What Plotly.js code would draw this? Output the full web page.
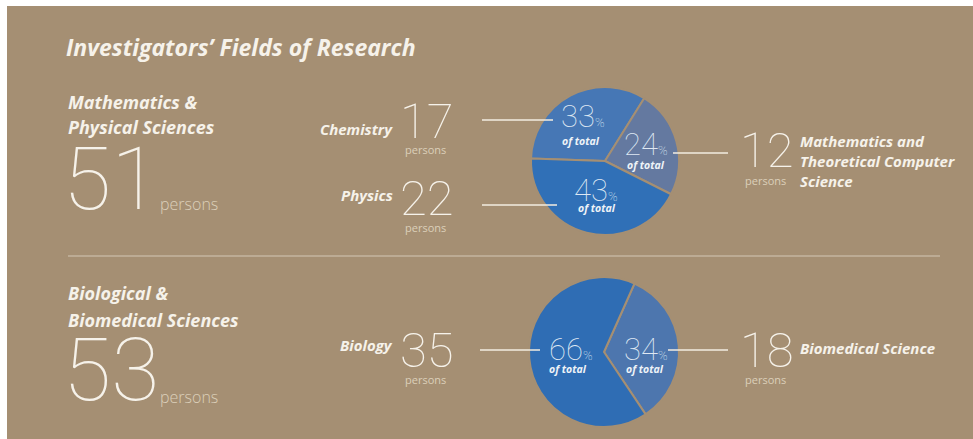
<!DOCTYPE html>
<html>
<head>
<meta charset="utf-8">
<script src="https://cdn.plot.ly/plotly-3.0.1.min.js"></script>
<style>html,body{margin:0;padding:0;background:#fff;}#chart{width:973px;height:439px;}</style>
</head>
<body>
<div id="chart"></div>
<script>
// ---- data ----
const chartTitle = 'Investigators\u2019 Fields of Research';
const groupNames = [['Mathematics &', 'Physical Sciences'], ['Biological &', 'Biomedical Sciences']];
const groupTotals = [51, 53];
const fields1 = ['Chemistry', 'Mathematics and Theoretical Computer Science', 'Physics'];
const fieldLines1 = [['Chemistry'], ['Mathematics and', 'Theoretical Computer', 'Science'], ['Physics']];
const counts1 = [17, 12, 22];
const fields2 = ['Biomedical Science', 'Biology'];
const fieldLines2 = [['Biomedical Science'], ['Biology']];
const counts2 = [18, 35];
const unitLabel = 'persons';
const shareLabel = 'of total';

// ---- helpers ----
const W = 973, H = 439;
const px = x => x / W;
const py = y => 1 - y / H;
const BG = '#a58f73';
const TXT = '#f6f2ea';
const SOFT = '#dccfba';
const HEAD = 'Open Sans';
const THIN = 'Roboto';

function ann(text, x, y, opts) {
  return Object.assign({
    text: text, x: px(x), y: py(y), xref: 'paper', yref: 'paper',
    showarrow: false, xanchor: 'left', yanchor: 'middle', borderpad: 0,
    font: {family: HEAD, size: 13, color: TXT}
  }, opts || {});
}
const bi = (size, color) => ({family: HEAD, size: size, color: color || TXT, weight: 700, style: 'italic'});
const thin = (size, color) => ({family: THIN, size: size, color: color || TXT, weight: 100});
const pct = (v, arr) => Math.round(v / arr.reduce((a, b) => a + b, 0) * 100);

const annotations = [];
annotations.push(ann(chartTitle, 65, 47, {font: bi(23)}));

// group headings
const groupY = [[102, 127, 178, 204], [293, 320, 369, 397]];
groupNames.forEach((lines, i) => {
  annotations.push(ann(lines[0], 67, groupY[i][0], {font: bi(18)}));
  annotations.push(ann(lines[1], 67, groupY[i][1], {font: bi(18)}));
  annotations.push(ann(String(groupTotals[i]), 62, groupY[i][2], {font: thin(88)}));
  annotations.push(ann(unitLabel, 159, groupY[i][3], {font: {family: HEAD, size: 16, color: SOFT, weight: 300}}));
});

// left side field labels (Chemistry, Physics, Biology)
function leftField(name, count, yName, yNum, yUnit) {
  annotations.push(ann(name, 394, yName, {xanchor: 'right', font: bi(15)}));
  annotations.push(ann(String(count), 399, yNum, {font: thin(49), height: 42, valign: 'middle'}));
  annotations.push(ann(unitLabel, 425, yUnit, {xanchor: 'center', font: {family: HEAD, size: 11, color: SOFT, weight: 400}}));
}
leftField(fieldLines1[0][0], counts1[0], 129, 121, 149);
leftField(fieldLines1[2][0], counts1[2], 195, 198, 227);
leftField(fieldLines2[1][0], counts2[1], 345, 350, 379);

// right side field labels
function rightField(lines, count, ys, yNum, yUnit) {
  lines.forEach((l, k) => annotations.push(ann(l, 799, ys[k], {font: bi(15)})));
  annotations.push(ann(String(count), 739, yNum, {font: thin(49), height: 42, valign: 'middle'}));
  annotations.push(ann(unitLabel, 765, yUnit, {xanchor: 'center', font: {family: HEAD, size: 11, color: SOFT, weight: 400}}));
}
rightField(fieldLines1[1], counts1[1], [141, 161, 181], 150, 180);
rightField(fieldLines2[0], counts2[0], [348], 350, 379);

// percentages inside pies
function pctLabel(value, x, y, xSub, ySub) {
  annotations.push(ann(value + '<span style="font-size:13px">%</span>', x, y, {font: thin(31, '#dfe8f3'), height: 28, valign: 'middle'}));
  annotations.push(ann(shareLabel, xSub, ySub, {xanchor: 'center', font: bi(10.5, '#eef3f8')}));
}
pctLabel(pct(counts1[0], counts1), 560, 116, 581, 141);
pctLabel(pct(counts1[1], counts1), 623, 144, 646, 165);
pctLabel(pct(counts1[2], counts1), 573, 190, 597, 208);
pctLabel(pct(counts2[1], counts2), 548, 349, 568, 369);
pctLabel(pct(counts2[0], counts2), 623, 349, 645, 369);

// ---- shapes ----
const hline = (x0, x1, y, color, w) => ({type: 'line', xref: 'paper', yref: 'paper', x0: px(x0), x1: px(x1), y0: py(y), y1: py(y), line: {color: color, width: w}, layer: 'above'});
const shapes = [
  {type: 'rect', xref: 'paper', yref: 'paper', x0: px(7), x1: 1, y0: 0, y1: py(6), fillcolor: BG, line: {width: 0}, layer: 'below'},
  hline(68, 940, 256, '#c4b59f', 1.5),
  hline(482, 553, 120, '#f3ece0', 1.5),
  hline(482, 557, 205, '#f3ece0', 1.5),
  hline(673, 728, 153, '#f3ece0', 1.5),
  hline(480, 540, 350, '#f3ece0', 1.5),
  hline(668, 728, 350, '#f3ece0', 1.5)
];

// ---- pies ----
const c1 = {x: 605, y: 161, r: 74};
const c2 = {x: 604, y: 352, r: 75};
const pieDomain = c => ({x: [px(c.x - c.r), px(c.x + c.r)], y: [py(c.y + c.r), py(c.y - c.r)]});
const traces = [
  {type: 'pie', labels: fields1, values: counts1, sort: false, direction: 'clockwise', rotation: 272,
   domain: pieDomain(c1), textinfo: 'none', hoverinfo: 'label+value+percent',
   marker: {colors: ['#4677b5', '#6479a0', '#3070b7'], line: {color: BG, width: 2}}},
  {type: 'pie', labels: fields2, values: counts2, sort: false, direction: 'clockwise', rotation: 24,
   domain: pieDomain(c2), textinfo: 'none', hoverinfo: 'label+value+percent',
   marker: {colors: ['#4d76ae', '#2f6db4'], line: {color: BG, width: 2}}}
];

Plotly.newPlot('chart', traces, {
  width: W, height: H, margin: {l: 0, r: 0, t: 0, b: 0},
  paper_bgcolor: '#ffffff', showlegend: false,
  annotations: annotations, shapes: shapes
}, {displayModeBar: false, staticPlot: true});
</script>
</body>
</html>
